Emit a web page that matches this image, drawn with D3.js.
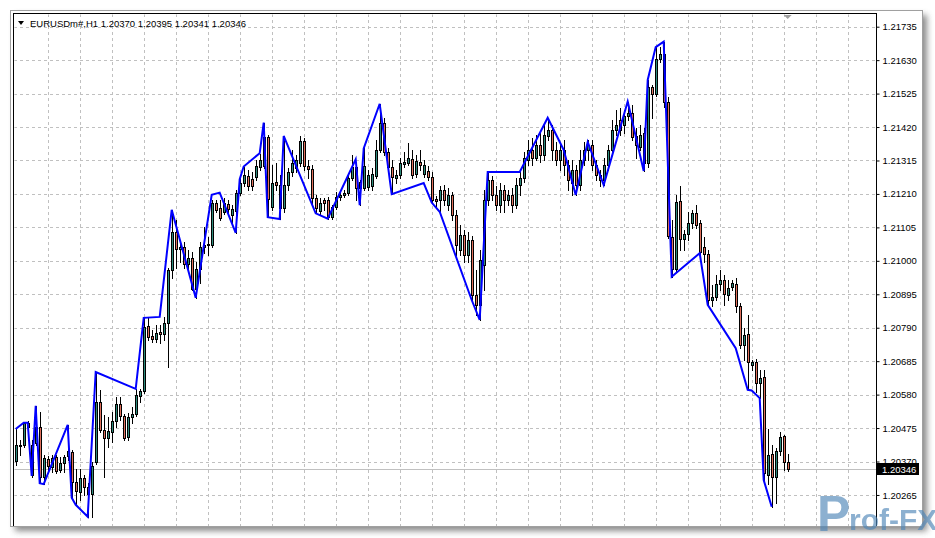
<!DOCTYPE html>
<html><head><meta charset="utf-8">
<script src="https://cdn.jsdelivr.net/npm/d3@7"></script>
<style>
body{margin:0;background:#fff;}
svg{display:block;}
text{font-family:"Liberation Sans",Arial,sans-serif;}
</style>
</head><body>
<svg id="c" width="935" height="538"></svg>
<script>
const symbolLabel = "EURUSDm#,H1";
const lastBarText = "1.20370 1.20395 1.20341 1.20346";
const lastPrice = 1.20346;
const priceTicks = [1.21735,1.21630,1.21525,1.21420,1.21315,1.21210,1.21105,1.21000,1.20895,1.20790,1.20685,1.20580,1.20475,1.20370,1.20265,1.20160];

const opens = [1.20372,1.20422,1.20422,1.20491,1.20328,1.20428,1.20479,1.20322,1.20378,1.20353,1.20385,1.20344,1.20366,1.20388,1.20400,1.20306,1.20275,1.20319,1.20290,1.20268,
1.20369,1.20557,1.20469,1.20444,1.20463,1.20497,1.20551,1.20513,1.20447,1.20510,1.20519,1.20576,1.20592,1.20796,1.20764,1.20755,1.20777,1.20771,1.20805,1.20971,
1.21091,1.21037,1.21044,1.20990,1.21009,1.20912,1.20975,1.21044,1.21050,1.21050,1.21182,1.21166,1.21153,1.21179,1.21144,1.21157,1.21213,1.21245,1.21266,1.21257,
1.21263,1.21295,1.21298,1.21389,1.21169,1.21248,1.21238,1.21166,1.21238,1.21279,1.21292,1.21307,1.21376,1.21298,1.21288,1.21197,1.21157,1.21191,1.21191,1.21138,
1.21169,1.21201,1.21207,1.21213,1.21260,1.21295,1.21248,1.21229,1.21232,1.21235,1.21266,1.21348,1.21433,1.21342,1.21295,1.21260,1.21270,1.21304,1.21307,1.21320,
1.21273,1.21311,1.21273,1.21282,1.21263,1.21194,1.21191,1.21223,1.21175,1.21207,1.21144,1.21034,1.21081,1.21019,1.21066,1.20893,1.20862,1.20987,1.21191,1.21254,
1.21207,1.21175,1.21223,1.21191,1.21207,1.21175,1.21238,1.21260,1.21317,1.21348,1.21323,1.21364,1.21332,1.21392,1.21411,1.21348,1.21317,1.21348,1.21301,1.21245,
1.21285,1.21238,1.21317,1.21348,1.21364,1.21301,1.21270,1.21254,1.21301,1.21348,1.21411,1.21442,1.21427,1.21455,1.21464,1.21392,1.21358,1.21402,1.21307,1.21546,
1.21524,1.21634,1.21650,1.21499,1.21075,1.20975,1.21188,1.21069,1.21084,1.21119,1.21150,1.21119,1.21044,1.21022,1.20877,1.20887,1.20928,1.20940,1.20893,1.20918,
1.20928,1.20858,1.20736,1.20771,1.20673,1.20683,1.20617,1.20636,1.20328,1.20394,1.20322,1.20403,1.20450,1.20370];
const highs = [1.20472,1.20438,1.20491,1.20497,1.20438,1.20545,1.20526,1.20391,1.20388,1.20391,1.20391,1.20385,1.20391,1.20485,1.20406,1.20347,1.20347,1.20328,1.20303,1.20369,
1.20651,1.20595,1.20516,1.20510,1.20526,1.20573,1.20573,1.20519,1.20523,1.20541,1.20598,1.20598,1.20821,1.20821,1.20783,1.20799,1.20799,1.20824,1.20978,1.21160,
1.21128,1.21066,1.21059,1.21034,1.21028,1.20997,1.21059,1.21106,1.21075,1.21191,1.21191,1.21191,1.21197,1.21191,1.21175,1.21223,1.21260,1.21295,1.21285,1.21279,
1.21317,1.21336,1.21433,1.21395,1.21301,1.21307,1.21270,1.21392,1.21292,1.21348,1.21332,1.21392,1.21386,1.21317,1.21301,1.21207,1.21197,1.21197,1.21201,1.21175,
1.21216,1.21213,1.21223,1.21273,1.21332,1.21311,1.21254,1.21354,1.21285,1.21292,1.21380,1.21493,1.21449,1.21354,1.21317,1.21285,1.21323,1.21342,1.21370,1.21348,
1.21332,1.21348,1.21317,1.21298,1.21279,1.21204,1.21235,1.21238,1.21229,1.21216,1.21160,1.21113,1.21097,1.21091,1.21078,1.20971,1.21034,1.21223,1.21279,1.21266,
1.21235,1.21245,1.21238,1.21223,1.21229,1.21260,1.21279,1.21342,1.21380,1.21386,1.21395,1.21405,1.21427,1.21449,1.21427,1.21373,1.21364,1.21380,1.21317,1.21317,
1.21301,1.21348,1.21373,1.21380,1.21380,1.21317,1.21285,1.21323,1.21364,1.21442,1.21474,1.21480,1.21474,1.21499,1.21489,1.21417,1.21427,1.21417,1.21568,1.21552,
1.21672,1.21672,1.21687,1.21515,1.21128,1.21207,1.21235,1.21097,1.21153,1.21160,1.21175,1.21128,1.21075,1.21034,1.20924,1.20956,1.20971,1.20956,1.20940,1.20940,
1.20946,1.20868,1.20789,1.20830,1.20689,1.20692,1.20658,1.20658,1.20472,1.20422,1.20413,1.20463,1.20453,1.20395];
const lows = [1.20359,1.20391,1.20416,1.20469,1.20322,1.20422,1.20303,1.20300,1.20344,1.20337,1.20334,1.20337,1.20337,1.20375,1.20256,1.20234,1.20250,1.20265,1.20196,1.20196,
1.20362,1.20463,1.20322,1.20416,1.20432,1.20479,1.20501,1.20438,1.20438,1.20491,1.20513,1.20557,1.20585,1.20752,1.20745,1.20745,1.20742,1.20752,1.20667,1.20946,
1.20978,1.20997,1.20978,1.20971,1.20909,1.20884,1.20931,1.21025,1.21019,1.21044,1.21153,1.21128,1.21147,1.21150,1.21122,1.21088,1.21207,1.21235,1.21223,1.21223,
1.21254,1.21285,1.21292,1.21138,1.21160,1.21223,1.21132,1.21153,1.21223,1.21266,1.21279,1.21298,1.21285,1.21260,1.21175,1.21150,1.21144,1.21160,1.21132,1.21132,
1.21163,1.21191,1.21201,1.21207,1.21254,1.21191,1.21175,1.21223,1.21223,1.21223,1.21260,1.21342,1.21332,1.21285,1.21210,1.21245,1.21260,1.21295,1.21301,1.21260,
1.21263,1.21285,1.21263,1.21254,1.21182,1.21172,1.21153,1.21175,1.21160,1.21128,1.21019,1.21019,1.20997,1.20997,1.20877,1.20830,1.20815,1.20909,1.21175,1.21191,
1.21160,1.21153,1.21153,1.21175,1.21153,1.21166,1.21207,1.21248,1.21301,1.21301,1.21317,1.21311,1.21317,1.21380,1.21317,1.21301,1.21285,1.21270,1.21223,1.21207,
1.21207,1.21223,1.21301,1.21317,1.21285,1.21254,1.21235,1.21238,1.21285,1.21332,1.21395,1.21395,1.21402,1.21442,1.21380,1.21323,1.21348,1.21282,1.21295,1.21449,
1.21518,1.21624,1.21483,1.21072,1.20950,1.20965,1.21034,1.21034,1.21066,1.21103,1.21103,1.21019,1.20997,1.20862,1.20858,1.20877,1.20909,1.20862,1.20877,1.20909,
1.20840,1.20727,1.20689,1.20595,1.20658,1.20589,1.20570,1.20312,1.20300,1.20227,1.20240,1.20391,1.20344,1.20341];
const closes = [1.20422,1.20419,1.20491,1.20479,1.20422,1.20479,1.20322,1.20381,1.20356,1.20381,1.20341,1.20366,1.20385,1.20403,1.20306,1.20278,1.20319,1.20290,1.20268,1.20356,
1.20557,1.20469,1.20444,1.20466,1.20497,1.20551,1.20513,1.20444,1.20510,1.20519,1.20579,1.20592,1.20792,1.20761,1.20755,1.20774,1.20771,1.20805,1.20971,1.21091,
1.21037,1.21044,1.20990,1.21009,1.20912,1.20975,1.21044,1.21050,1.21053,1.21182,1.21160,1.21135,1.21182,1.21163,1.21163,1.21213,1.21245,1.21270,1.21235,1.21235,
1.21298,1.21317,1.21389,1.21194,1.21245,1.21238,1.21166,1.21238,1.21279,1.21307,1.21317,1.21376,1.21298,1.21288,1.21197,1.21166,1.21182,1.21182,1.21138,1.21169,
1.21201,1.21207,1.21213,1.21260,1.21295,1.21229,1.21229,1.21298,1.21270,1.21273,1.21348,1.21433,1.21342,1.21295,1.21263,1.21270,1.21307,1.21311,1.21323,1.21270,
1.21314,1.21301,1.21301,1.21263,1.21191,1.21188,1.21223,1.21191,1.21207,1.21144,1.21050,1.21081,1.21019,1.21066,1.20893,1.20862,1.21003,1.21191,1.21254,1.21207,
1.21175,1.21223,1.21191,1.21207,1.21175,1.21238,1.21260,1.21323,1.21348,1.21323,1.21364,1.21332,1.21395,1.21411,1.21348,1.21317,1.21348,1.21301,1.21254,1.21285,
1.21238,1.21317,1.21348,1.21364,1.21301,1.21270,1.21254,1.21301,1.21348,1.21411,1.21427,1.21411,1.21455,1.21464,1.21389,1.21364,1.21395,1.21307,1.21546,1.21524,
1.21634,1.21650,1.21499,1.21078,1.20975,1.21185,1.21069,1.21084,1.21119,1.21150,1.21113,1.21028,1.21022,1.20877,1.20887,1.20928,1.20940,1.20896,1.20915,1.20931,
1.20858,1.20736,1.20767,1.20683,1.20683,1.20617,1.20633,1.20334,1.20391,1.20322,1.20403,1.20447,1.20369,1.20346];

const zzBars   = [0,2,3,4,5,6,7,13,14,15,18,20,30,32,36,39,45,49,51,55,56,57,61,62,63,66,67,75,78,85,86,87,91,94,102,104,106,114,116,118,126,133,137,140,143,147,153,157,158,160,162,164,171,173,180,183,184,186,187,189];
const zzPrices = [1.20472,1.20492,1.20492,1.20325,1.20545,1.20302,1.20299,1.20485,1.20256,1.20234,1.20197,1.20651,1.20598,1.20821,1.20824,1.21160,1.20884,1.21207,1.21214,1.21088,1.21256,1.21296,1.21338,1.21434,1.21137,1.21131,1.21392,1.21149,1.21132,1.21319,1.21175,1.21353,1.21493,1.21209,1.21244,1.21183,1.21154,1.20877,1.20815,1.21279,1.21279,1.21449,1.21348,1.21207,1.21373,1.21238,1.21500,1.21282,1.21568,1.21671,1.21688,1.20950,1.21024,1.20862,1.20726,1.20595,1.20593,1.20569,1.20312,1.20228];

const bars = opens.map((o,i)=>({i, o, h:highs[i], l:lows[i], c:closes[i]}));

const svg = d3.select("#c");
const W=935, H=538;
const pL=14, pT=14, pR=876, pB=526;

const defs = svg.append("defs");
const f = defs.append("filter").attr("id","sh").attr("x","-5%").attr("y","-5%").attr("width","110%").attr("height","110%");
f.append("feGaussianBlur").attr("stdDeviation",3);
defs.append("clipPath").attr("id","plot").append("rect").attr("x",pL+0.5).attr("y",pT+0.5).attr("width",pR-pL-0.5).attr("height",pB-pT-0.5);
defs.append("clipPath").attr("id","win").append("rect").attr("x",pR).attr("y",pT).attr("width",50).attr("height",pB-pT);

svg.append("rect").attr("x",0).attr("y",0).attr("width",W).attr("height",H).attr("fill","#fff");
svg.append("rect").attr("x",15).attr("y",15).attr("width",912).attr("height",516).attr("fill","#6e6e6e").attr("opacity",0.8).attr("filter","url(#sh)");
svg.append("rect").attr("x",10.5).attr("y",10.5).attr("width",912).attr("height",516).attr("fill","#fff").attr("stroke","#a0a0a0");

const x = d3.scaleLinear().domain([0,193]).range([15.7,787.7]);
const y = d3.scaleLinear().domain([1.20160,1.21735]).range([528.4,26.7]);

const g = svg.append("g").attr("clip-path","url(#plot)");

const vGrid = d3.range(8, 210, 8);
g.selectAll("line.vg").data(vGrid).join("line")
  .attr("x1",d=>Math.round(x(d))+0.5).attr("x2",d=>Math.round(x(d))+0.5)
  .attr("y1",pT).attr("y2",pB)
  .attr("stroke","#c0c0c0").attr("stroke-dasharray","3,3");
g.selectAll("line.hg").data(priceTicks).join("line")
  .attr("x1",pL).attr("x2",pR)
  .attr("y1",d=>Math.round(y(d))+0.5).attr("y2",d=>Math.round(y(d))+0.5)
  .attr("stroke","#c0c0c0").attr("stroke-dasharray","3,3");

g.append("line").attr("x1",pL).attr("x2",pR)
  .attr("y1",Math.round(y(lastPrice))+0.5).attr("y2",Math.round(y(lastPrice))+0.5)
  .attr("stroke","#c0c0c0");

g.selectAll("line.wk").data(bars).join("line")
  .attr("x1",d=>Math.round(x(d.i))+0.5).attr("x2",d=>Math.round(x(d.i))+0.5)
  .attr("y1",d=>Math.round(y(d.h))).attr("y2",d=>Math.round(y(d.l))+1)
  .attr("stroke","#000").attr("stroke-width",1);
g.selectAll("rect.bd").data(bars).join("rect")
  .attr("x",d=>Math.round(x(d.i))-1+0.5)
  .attr("y",d=>Math.round(y(Math.max(d.o,d.c)))+0.5)
  .attr("width",2)
  .attr("height",d=>Math.max(1,Math.round(y(Math.min(d.o,d.c)))-Math.round(y(Math.max(d.o,d.c)))))
  .attr("fill",d=>d.c>=d.o?"#2e8b7c":"#e0705c")
  .attr("stroke","#000").attr("stroke-width",1);

const zz = zzBars.map((b,k)=>[b,zzPrices[k]]);
g.append("path").datum(zz)
  .attr("d",d3.line().x(d=>x(d[0])).y(d=>y(d[1])))
  .attr("fill","none").attr("stroke","#0000ff").attr("stroke-width",2);

svg.append("line").attr("x1",pL-0.5).attr("x2",pL-0.5).attr("y1",pT-1).attr("y2",pB).attr("stroke","#000");
svg.append("line").attr("x1",pL-1).attr("x2",pR).attr("y1",pT-0.5).attr("y2",pT-0.5).attr("stroke","#000");
svg.append("line").attr("x1",pR+0.5).attr("x2",pR+0.5).attr("y1",pT-1).attr("y2",pB).attr("stroke","#000");

const axis = d3.axisRight(y).tickValues(priceTicks).tickSize(3).tickPadding(3).tickFormat(d3.format(".5f"));
const ag = svg.append("g").attr("clip-path","url(#win)").append("g").attr("transform",`translate(${pR+0.5},0)`).call(axis);
ag.select(".domain").remove();
ag.selectAll("text").attr("font-size","9.5px").attr("font-family","Liberation Sans, Arial, sans-serif").attr("fill","#000");
ag.selectAll("line").attr("stroke","#000");

const ly = y(lastPrice);
svg.append("rect").attr("x",pR+1).attr("y",Math.round(ly)-6).attr("width",42).attr("height",12).attr("fill","#000");
svg.append("text").attr("x",pR+6).attr("y",ly+0.5).attr("dy","0.32em").attr("font-size","9.5px").attr("fill","#fff").text(d3.format(".5f")(lastPrice));

svg.append("path").attr("d",`M${x(193)-4},${pT+1} L${x(193)+4},${pT+1} L${x(193)},${pT+5} Z`).attr("fill","#a0a0a0");

svg.append("path").attr("d","M18,21 L24,21 L21,25 Z").attr("fill","#000");
svg.append("text").attr("x",30).attr("y",26.5).attr("font-size","9.5px").attr("fill","#000")
  .text(symbolLabel + "  " + lastBarText);

const wm = svg.append("g").attr("opacity",0.65);
wm.append("text").attr("x",817).attr("y",531).attr("font-size","50px").attr("font-weight","bold").attr("fill","#4f86b8").text("P");
wm.append("text").attr("x",849).attr("y",530).attr("font-size","30px").attr("font-weight","bold").attr("fill","#4f86b8").text("rof-FX");
</script>
</body></html>
